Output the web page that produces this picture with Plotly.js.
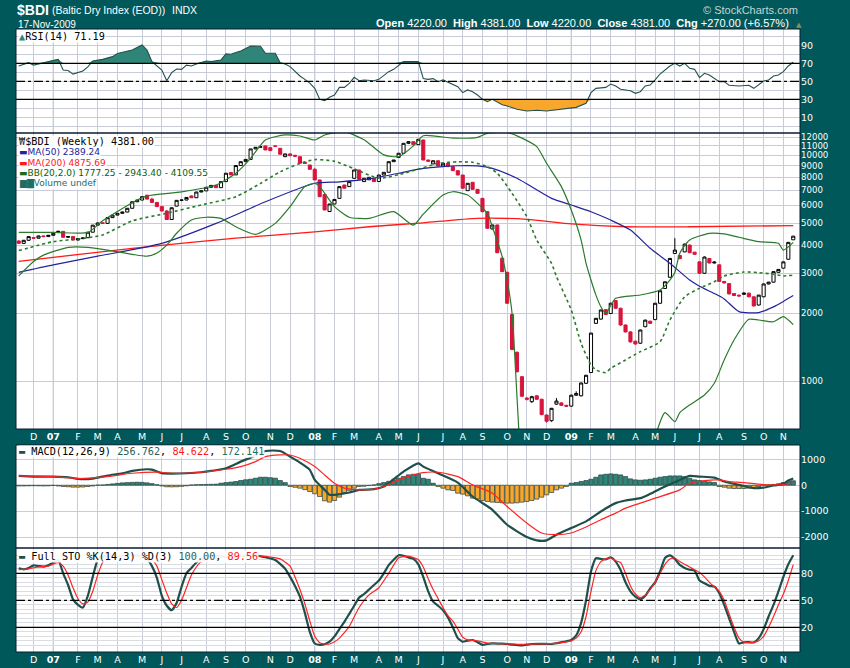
<!DOCTYPE html>
<html><head><meta charset="utf-8">
<script src="https://cdn.plot.ly/plotly-3.0.1.min.js"></script>
<style>html,body{margin:0;padding:0;background:#01585a;}#chart{width:850px;height:668px;}</style>
</head><body><div id="chart"></div>
<script>
// ---------- DATA (weekly bars, week index 0 = Monday 2007-01-01) ----------
const firstCandleWeek = -7;
const candleOpen = [4170,4070,4200,4320,4290,4390,4360,4420,4560,4600,
4330,4360,4210,4270,4310,4560,4900,5020,4990,5290,
5430,5530,5600,5820,6220,6330,6650,6390,6180,5920,
5660,5190,5950,6310,6330,6600,6480,6870,6950,7210,
7350,7180,7640,8380,8180,9000,9360,9580,10660,10840,
10990,10800,10990,10730,9850,10130,9990,9850,9300,9050,
8660,7770,6700,5630,6080,6440,7380,7260,7900,8600,
7640,7780,7900,7650,8170,8400,9360,9780,10200,11290,
11480,11140,11680,9520,9150,9450,8960,9210,8900,8540,
8170,6965,7585,7060,6440,5620,4710,4910,3500,3030,
1970,1340,1045,840,810,860,830,707,667,790,
800,780,774,865,860,977,1090,1800,1880,2070,
1990,2270,2100,1770,1650,1500,1470,1740,1840,1870,
2210,2570,2880,3670,3600,3730,4000,3720,3370,3000,
3490,3330,3270,2760,2700,2440,2400,2420,2450,2360,
2170,2360,2690,2740,3030,3160,3460,4220];
const candleHigh = [4200,4210,4370,4340,4400,4400,4430,4520,4620,4600,
4370,4360,4280,4310,4570,4910,5030,5030,5300,5440,
5540,5620,5830,6230,6340,6560,6680,6480,6190,5950,
5720,5860,6320,6340,6510,6630,6880,6960,7220,7360,
7360,7650,8330,8390,9010,9370,9590,10670,10850,10920,
11000,10810,11040,10750,10140,10210,10000,9860,9370,9060,
8760,7780,6780,6090,6380,7270,7390,7650,8610,8610,
7910,7990,7910,8180,8410,9370,9530,10210,11300,11490,
11490,11793,11700,9560,9460,9460,9220,9220,8910,8550,
8180,7520,7600,7070,6450,5630,4920,4920,3510,3040,
1980,1350,1050,850,860,865,835,710,760,840,
805,785,870,900,985,1065,1635,1900,2070,2080,
2220,2280,2110,1780,1660,1510,1690,1870,1850,2215,
2515,2760,3500,4291,3610,4050,4010,3730,3380,3560,
3500,3390,3280,2770,2710,2450,2410,2470,2460,2370,
2410,2700,2750,3060,3130,3380,4120,4381];
const candleLow = [4060,4060,4180,4280,4280,4340,4350,4400,4550,4320,
4310,4200,4200,4260,4300,4550,4880,4970,4980,5280,
5420,5500,5590,5810,6200,6320,6380,6170,5910,5650,
5180,5180,5940,6260,6320,6470,6470,6860,6940,7200,
7170,7170,7630,8170,8170,8990,9350,9570,10650,10830,
10540,10470,10900,10090,9840,9940,9860,9200,9200,8650,
7760,6540,5710,5600,6070,6430,7130,7250,7890,7810,
7630,7770,7630,7640,8160,8390,9350,9770,10190,11200,
11130,11130,9510,9390,9140,8950,8950,8890,8530,8160,
7130,6950,7050,6770,5610,4740,4700,3690,3040,2200,
1370,1090,850,820,800,825,705,655,660,785,
775,770,770,860,855,970,1085,1790,1870,1960,
1985,2090,1760,1640,1480,1450,1460,1730,1790,1860,
2200,2560,2870,3660,3470,3720,3690,3630,2990,2990,
3320,3320,2750,2700,2420,2380,2370,2410,2350,2140,
2160,2350,2680,2730,3020,3150,3450,4220];
const candleClose = [4070,4200,4360,4290,4390,4360,4420,4510,4600,4330,
4360,4210,4270,4300,4560,4900,5010,4990,5290,5430,
5530,5600,5820,6220,6330,6550,6390,6180,5920,5660,
5190,5850,6310,6330,6500,6480,6870,6950,7210,7350,
7180,7640,8320,8180,9000,9360,9580,10660,10840,10910,
10550,10480,10950,10100,10130,9950,9900,9210,9210,8660,
7770,6550,5720,6080,6370,7260,7140,7640,8600,7820,
7900,7980,7640,8170,8400,9360,9520,10200,11290,11480,
11140,11760,9520,9400,9450,8960,9210,8900,8540,8170,
7140,7510,7060,6780,5620,4745,4910,3700,3050,2210,
1380,1100,856,830,852,830,710,663,757,815,
780,774,865,880,980,1060,1630,1895,2063,1970,
2210,2100,1770,1650,1490,1458,1682,1860,1800,2210,
2510,2750,3490,3800,3480,4040,3700,3640,3000,3540,
3330,3360,2760,2720,2430,2390,2380,2450,2360,2150,
2400,2690,2740,3050,3120,3370,4111,4381];

const ma50Week  = [-7,0,9,22,33,43,53,58,64,70,75,79,82,86,89,94,101,105,109,113,117,121,125,129,131,134,136,139,143,146,148,150];
const ma50Value = [3030,3270,3570,4070,4990,6220,7510,7620,7850,8320,8740,8900,8980,8960,8740,7900,6440,6020,5620,5160,4660,3870,3320,2800,2630,2440,2310,2030,2010,2130,2250,2389.24];

const ma200Week  = [-7,16,37,53,64,75,86,96,105,116,129,150];
const ma200Value = [3390,3870,4290,4580,4820,5020,5250,5200,4960,4820,4820,4875.69];

const bbMidWeek  = [-7,0,6,10,16,23,30,37,42,46,50,53,57,61,66,70,75,78,82,85,88,90,93,96,98,101,102,105,107,109,110,112,113,116,119,123,125,128,131,134,136,140,143,146,148,150];
const bbMidValue = [3780,4140,4280,4430,5120,5530,6020,6550,7500,8450,9200,9560,9400,8700,7900,8200,8800,9200,9350,9300,8900,8320,6780,5340,4210,3320,2900,2063,1469,1177,1119,1089,1138,1239,1349,1493,1863,2362,2573,2753,2920,3040,3020,2970,2920,2943.40];

const bbUpWeek  = [-7,0,7,10,16,19,26,33,37,40,43,47,50,53,55,59,63,67,70,73,75,81,86,88,92,95,98,100,103,105,107,108,109,110,111,112,114,119,123,125,126,127,129,133,136,139,143,147,148,150];
const bbUpValue = [4550,4550,4550,5120,6160,6600,6880,7380,8320,9690,11680,12290,12160,11680,12290,12710,11700,10030,9850,11000,12200,11900,12000,12500,12600,11900,10910,9210,7260,5720,4210,3320,2800,2400,2133,1994,2324,2404,2530,2800,3020,3680,4210,4510,4480,4330,4140,4070,3800,4109.55];

const bbLowWeek  = [-7,-4,-2,3,7,11,16,19,21,23,25,28,31,34,37,41,45,48,51,53,54,57,60,64,69,73,75,79,81,84,86,88,89,91,92,93,94,95,96,120,121,122,124,126,127,129,132,134,136,138,141,143,146,148,150];
const bbLowValue = [2920,3380,3610,3910,3910,3800,3640,3570,3690,4000,4510,5160,5310,5250,4820,4460,4990,5920,7260,7510,7260,5920,5310,5250,5620,4900,5480,6660,6890,6660,6120,5530,4820,3550,2800,1994,850,350,200,200,350,560,724,660,724,783,867,977,1239,1519,1876,1863,1830,1927,1777.25];

const rsiWeek  = [-7,-5,-4,-2,0,1,2,3,4,6,7,8,10,12,13,16,18,19,20,22,23,24,25,26,27,28,29,31,32,34,35,36,37,38,40,41,42,43,45,46,47,48,50,51,52,53,54,55,56,57,58,59,60,61,62,63,65,66,68,69,71,72,74,75,76,77,78,79,81,82,83,84,85,86,87,88,89,90,91,92,94,96,98,100,101,104,106,108,109,110,112,113,114,115,117,118,119,120,121,122,123,125,126,127,128,129,130,131,132,133,135,136,137,139,141,142,144,145,146,147,148,149,150];
const rsiValue = [67,70.7,68,70.7,73.7,74.4,62.6,62,58,61.5,66,72.6,74.4,77.4,81,84.8,90.4,84.8,71.9,62.6,50.7,59.6,63.7,63.3,68,67,69.3,72.6,71.9,73.7,80.4,80,81.9,83.7,89.3,89.3,89,81.1,81.1,70.7,69.3,66.3,55.9,52.2,48,42.2,30,28.5,32.2,34.8,43.3,43.3,47.8,54.4,50.7,51.5,50.7,52.2,60.7,63.3,71.9,71.9,71.9,53,52.2,53,49.6,51.5,45.9,44,37.4,40.4,38.5,34.8,30,27.4,30,27.4,24,22.6,18.9,17,17.8,17,17.8,20,21.1,25.6,37.4,42.2,43.3,47,44.8,41.1,39.6,36.7,38.5,44.8,45.9,51.5,58.1,67,70,67,70,64.4,63.3,54.1,58.9,57,49.6,49.6,45.6,44.8,45.6,42.2,50.4,51.5,55.9,57,60.7,67,71.19];

const macdWeek  = [-7,-4,0,3,5,8,11,14,16,19,20,22,24,27,30,32,35,38,40,43,46,48,50,52,53,55,56,57,60,62,65,67,69,71,74,75,78,82,85,89,92,96,98,100,102,105,108,111,114,116,119,121,124,127,129,131,134,136,139,142,144,146,148,149,150];
const macdValue = [359,333,333,308,244,256,372,462,551,615,603,462,449,462,500,551,654,910,1064,1320,1320,1103,872,590,205,-180,-372,-372,-282,-180,-154,-51,231,526,846,718,462,103,-436,-949,-1526,-2000,-2128,-2128,-1910,-1654,-1397,-1013,-692,-590,-500,-333,-51,205,359,333,295,141,13,-115,-90,-13,51,180,256.762];
const signalWeek  = [-7,0,5,11,16,22,24,30,35,38,41,43,46,48,50,53,55,57,59,62,65,67,70,73,75,78,82,85,89,92,96,99,102,105,108,111,114,116,119,122,127,129,132,135,137,140,143,145,148,150];
const signalValue = [359,333,256,333,462,500,462,500,615,718,910,1103,1167,1167,1038,718,397,77,-115,-180,-154,-51,205,397,487,500,333,13,-308,-821,-1462,-1846,-1910,-1846,-1615,-1333,-1077,-885,-692,-500,-180,77,180,205,141,103,38,13,26,84.622];
// histogram: one value per weekly bar (same weeks as candles)
const histValue = [-30,-30,-25,-20,-25,-30,-25,-10,-30,-50,
-60,-75,-75,-70,-50,-30,5,10,30,50,
70,90,100,110,115,110,90,60,20,-30,
-60,-65,-60,-45,-25,10,20,25,30,35,
40,77,100,120,141,180,210,231,270,308,
308,290,270,180,100,-50,-80,-115,-170,-244,
-330,-436,-603,-654,-590,-462,-282,-200,-115,-51,
-40,-13,13,60,103,150,205,270,333,400,
423,423,269,230,77,-51,-115,-180,-205,-308,
-346,-410,-500,-538,-590,-628,-654,-667,-680,-692,
-692,-680,-654,-628,-590,-538,-462,-372,-282,-180,
-115,-51,77,103,141,180,231,308,397,423,
436,423,397,333,244,205,192,205,231,269,
308,333,359,359,359,333,269,205,180,154,
128,103,-51,-77,-115,-128,-128,-128,-115,-115,
-51,13,10,30,51,103,154,172.141];

const stoKWeek  = [-7,-6,-5,-4,-3,-2,-1,0,1,2,3,4,5,6,7,8,9,10,12,14,16,18,19,20,21,22,23,24,25,26,27,28,29,30,33,36,39,41,43,45,47,48,49,50,51,52,53,54,55,56,57,58,59,60,61,62,63,64,65,66,67,68,69,70,71,72,73,74,75,76,77,78,79,80,81,82,83,84,85,86,87,88,89,91,92,93,95,97,99,101,102,103,104,105,106,107,108,109,110,111,112,113,114,115,116,117,118,119,120,121,122,123,124,125,126,127,128,129,130,131,132,133,134,135,136,137,138,139,140,141,142,143,144,145,146,147,148,149,150];
const stoKValue = [85.6,84.4,86,88.9,88,87.4,89,91.9,94.8,80,67,51,45,42,55,76,94.8,98,100,99,100,99,96,88,75,55,44,39,47,65,80,86,92,96,99,98,100,100,97.8,94.8,85,76,66,54,36,15,2,0.5,1.2,4,10,18,26,35,44,53,57,62,67,72,80,89,95,100,99.5,97.5,96,90,76,60,48.5,44,39,31,20,8,4,5.2,5.9,3.5,0.5,1.5,2.2,1.8,1.5,0.8,0,1.5,1.6,1.5,2.3,3.5,4.5,5.9,11,25,50,81.9,96.7,96,95.6,97.8,93,83.7,70,60,54,51.1,55,63.3,70,82,97,100,96,89.3,86,84,83,72,69,66,65.2,58,45,30,15,2,3.3,3.5,3.2,8,18,32,45,60,76,90,100];
const stoDWeek  = [-7,-5,-3,-1,1,2,3,4,5,6,7,8,9,10,11,14,18,20,21,22,23,24,25,26,27,28,29,30,34,38,42,44,46,48,49,50,51,52,53,54,55,56,57,58,59,60,62,64,66,68,70,72,74,75,76,77,78,79,80,81,82,83,84,86,88,90,94,98,102,105,106,107,108,109,110,111,112,113,114,115,116,117,118,119,120,121,122,123,124,125,126,127,128,129,130,131,132,133,134,135,136,137,138,139,140,141,142,143,144,145,146,147,148,149,150];
const stoDValue = [84,85,87,88,92,88,78,64,52,46,48,60,78,92,98,99,99,95,88,73,58,46,42,50,64,78,87,93,98,99,99,98,96,88,76,62,46,27,10,3,1.5,1.5,4,8,14,21,42,56,64,80,97,99,95,87,74,62,52,42,33,27,18,9,6,5,2.5,2,1.2,1.5,2.5,5,8,15,32,60,83,93,96,97,94,92,80,66,57,53,56,62,70,80,90,96,97,93,90,87,84,81,76,70,65,60,50,35,20,8,3.5,3,3.3,5,10,20,32,45,57,72,89.56];

const headerStats = {open:4220.00, high:4381.00, low:4220.00, close:4381.00, chg:270.00, chgPct:6.57};
const monthLetters = ['J','F','M','A','M','J','J','A','S','O','N','D'];

// ---------- helpers ----------
function weekDate(w){ return new Date(Date.UTC(2007,0,1) + w*604800000).toISOString().slice(0,10); }
const dates = ws => ws.map(weekDate);
const candleDates = candleOpen.map((_, i) => weekDate(firstCandleWeek + i));
const last = a => a[a.length-1];

// month ticks: first weekly bar of each month
const tickVals = [], tickText = [], yearTicks = [];
let prevKey = '';
candleDates.forEach((d, i) => {
  const key = d.slice(0,7);
  if (key !== prevKey) {
    if (i > 0 || d.slice(8,10) <= '07') {
      const m = parseInt(d.slice(5,7),10) - 1;
      tickVals.push(d);
      if (m === 0) { tickText.push('<b>' + d.slice(2,4) + '</b>'); yearTicks.push(d); }
      else tickText.push(monthLetters[m]);
    }
    prevKey = key;
  }
});

// ---------- colours ----------
const TEAL_DARK = '#1f4f4b', RED = '#ff2424', GRID = '#c8cbd8', BG = '#01585a';
const C_UP_FILL = '#2f8577', C_DN_FILL = '#f7a72c';

const traces = [];
// RSI
const rsiX = dates(rsiWeek);
traces.push({x: rsiX, y: rsiValue.map(() => 70), xaxis:'x', yaxis:'y', mode:'lines', line:{width:0, color:'rgba(0,0,0,0)'}, hoverinfo:'skip'});
traces.push({x: rsiX, y: rsiValue.map(v => Math.max(v,70)), xaxis:'x', yaxis:'y', mode:'lines', line:{width:0, color:'rgba(0,0,0,0)'}, fill:'tonexty', fillcolor:C_UP_FILL, hoverinfo:'skip'});
traces.push({x: rsiX, y: rsiValue.map(() => 30), xaxis:'x', yaxis:'y', mode:'lines', line:{width:0, color:'rgba(0,0,0,0)'}, hoverinfo:'skip'});
traces.push({x: rsiX, y: rsiValue.map(v => Math.min(v,30)), xaxis:'x', yaxis:'y', mode:'lines', line:{width:0, color:'rgba(0,0,0,0)'}, fill:'tonexty', fillcolor:C_DN_FILL, hoverinfo:'skip'});
traces.push({x: rsiX, y: rsiValue, xaxis:'x', yaxis:'y', mode:'lines', line:{width:1.1, color:'#24504d'}});

// price
traces.push({type:'candlestick', x: candleDates, open: candleOpen, high: candleHigh, low: candleLow, close: candleClose,
  xaxis:'x', yaxis:'y2', whiskerwidth:0,
  increasing:{line:{color:'#000000', width:1}, fillcolor:'#ffffff'},
  decreasing:{line:{color:'#d8143c', width:1}, fillcolor:'#d8143c'}, hoverinfo:'skip'});
traces.push({x: dates(ma200Week), y: ma200Value, xaxis:'x', yaxis:'y2', mode:'lines', line:{color:'#ff1a1a', width:1.3, shape:'spline', smoothing:0.6}});
traces.push({x: dates(ma50Week), y: ma50Value, xaxis:'x', yaxis:'y2', mode:'lines', line:{color:'#23239a', width:1.2, shape:'spline', smoothing:0.6}});
traces.push({x: dates(bbUpWeek), y: bbUpValue, xaxis:'x', yaxis:'y2', mode:'lines', line:{color:'#2b7a2b', width:1.2, shape:'spline', smoothing:0.6}});
traces.push({x: dates(bbLowWeek), y: bbLowValue, xaxis:'x', yaxis:'y2', mode:'lines', line:{color:'#2b7a2b', width:1.2, shape:'spline', smoothing:0.6}});
traces.push({x: dates(bbMidWeek), y: bbMidValue, xaxis:'x', yaxis:'y2', mode:'lines', line:{color:'#2b7a2b', width:1.6, dash:'dot', shape:'spline', smoothing:0.6}});

// MACD
traces.push({type:'bar', x: candleDates, y: histValue, xaxis:'x', yaxis:'y3',
  marker:{color: histValue.map(v => v >= 0 ? C_UP_FILL : C_DN_FILL), line:{color:'#24403f', width:0.7}}});
traces.push({x: dates(macdWeek), y: macdValue, xaxis:'x', yaxis:'y3', mode:'lines', line:{color:TEAL_DARK, width:2.2, shape:'spline', smoothing:0.6}});
traces.push({x: dates(signalWeek), y: signalValue, xaxis:'x', yaxis:'y3', mode:'lines', line:{color:RED, width:1.2, shape:'spline', smoothing:0.6}});

// STO
traces.push({x: dates(stoKWeek), y: stoKValue, xaxis:'x2', yaxis:'y4', mode:'lines', line:{color:TEAL_DARK, width:2.2, shape:'spline', smoothing:0.5}});
traces.push({x: dates(stoDWeek), y: stoDValue, xaxis:'x2', yaxis:'y4', mode:'lines', line:{color:RED, width:1.2, shape:'spline', smoothing:0.5}});

// ---------- layout ----------
const L = 16, T = 29, PW = 784, PH = 623;
const px = x => (x - L) / PW, py = y => (T + PH - y) / PH;
const xRange = ['2006-11-09 02:00', '2009-11-25 14:00'];
const tickFont = {family:'DejaVu Sans, Verdana, sans-serif', size:9.5, color:'#ffffff'};
const xCommon = {type:'date', range:xRange, tickmode:'array', tickvals:tickVals, ticktext:tickText,
  tickfont:tickFont, showgrid:true, gridcolor:GRID, gridwidth:1, ticks:'', showline:false, zeroline:false,
  rangeslider:{visible:false}, fixedrange:true};
const yCommon = {side:'right', anchor:'x', tickfont:tickFont, showgrid:true, gridcolor:GRID, gridwidth:1,
  ticks:'', showline:false, zeroline:false, fixedrange:true, tickmode:'array'};

const rsiTicks = [0,10,20,30,40,50,60,70,80,90,100];
const stoTicks = []; for (let v = 0; v <= 100; v += 5) stoTicks.push(v);
const priceTicks = [1000,2000,3000,4000,5000,6000,7000,8000,9000,10000,11000,12000];
const macdTicks = [-2000,-1000,0,1000];

const shapes = [];
const panels = [['x','y'],['x','y2'],['x','y3'],['x2','y4']];
panels.forEach(([xr, yr]) => {
  yearTicks.forEach(d => shapes.push({type:'line', xref:xr, yref:yr+' domain', x0:d, x1:d, y0:0, y1:1, line:{color:'#a2a9ba', width:1}, layer:'below'}));
});
[[70,'solid'],[30,'solid'],[50,'dashdot']].forEach(([v,dash]) =>
  shapes.push({type:'line', xref:'x domain', yref:'y', x0:0, x1:1, y0:v, y1:v, line:{color:'#000', width:1.2, dash:dash}}));
[[80,'solid'],[20,'solid'],[50,'dashdot']].forEach(([v,dash]) =>
  shapes.push({type:'line', xref:'x2 domain', yref:'y4', x0:0, x1:1, y0:v, y1:v, line:{color:'#000', width:1.2, dash:dash}}));
panels.forEach(([xr, yr]) => shapes.push({type:'rect', xref:xr+' domain', yref:yr+' domain', x0:0, x1:1, y0:0, y1:1, line:{color:'#0b1a33', width:1}, fillcolor:'rgba(0,0,0,0)'}));

const HF = 'Liberation Sans, Arial, sans-serif';
const MONO = 'DejaVu Sans Mono, monospace';
const SANS = 'DejaVu Sans, Verdana, sans-serif';
function ann(text, x, y, font, extra){ return Object.assign({text, x:px(x), y:py(y), xref:'paper', yref:'paper', xanchor:'left', yanchor:'middle', showarrow:false, font}, extra||{}); }
const legendBox = {bgcolor:'rgba(255,255,255,0.92)', borderpad:0};
const f2 = v => v.toFixed(2), f3 = v => v.toFixed(3);

const annotations = [
  ann('<b>$BDI</b>', 15, 9.5, {family:HF, size:14, color:'#fff'}),
  ann('(Baltic Dry Index (EOD))', 50, 10.5, {family:HF, size:10.5, color:'#fff'}),
  ann('INDX', 170, 10.5, {family:HF, size:10.5, color:'#fff'}),
  ann('17-Nov-2009', 16, 24.5, {family:HF, size:10, color:'#fff'}),
  ann('© StockCharts.com', 800, 10, {family:HF, size:11, color:'#c4d4d4'}, {xanchor:'right'}),
  ann('<b>Open</b> ' + f2(headerStats.open) + '  <b>High</b> ' + f2(headerStats.high) + '  <b>Low</b> ' + f2(headerStats.low) +
      '  <b>Close</b> ' + f2(headerStats.close) + '  <b>Chg</b> +' + f2(headerStats.chg) + ' (+' + f2(headerStats.chgPct) + '%)',
      791, 23.5, {family:HF, size:11, color:'#fff'}, {xanchor:'right'}),
  ann('▲', 794, 24.5, {family:SANS, size:7, color:'#8a8f5a'}),
  // RSI legend
  ann('<span style="color:#2f8577">▲</span>RSI(14) ' + f2(last(rsiValue)), 18, 36, {family:MONO, size:10.2, color:'#000'}, legendBox),
  // price legends
  ann('<span style="color:#333">₩</span>$BDI (Weekly) ' + f2(last(candleClose)), 18, 141, {family:MONO, size:10.2, color:'#000'}, legendBox),
  ann('<span style="color:#23239a">▬</span>MA(50) ' + f2(last(ma50Value)), 18, 152, {family:SANS, size:9, color:'#23239a'}, legendBox),
  ann('<span style="color:#ff1a1a">▬</span>MA(200) ' + f2(last(ma200Value)), 18, 162.5, {family:SANS, size:9, color:'#ff1a1a'}, legendBox),
  ann('<span style="color:#1c6b1c">▬</span>BB(20,2.0) ' + f2(last(bbLowValue)) + ' - ' + f2(last(bbMidValue)) + ' - ' + f2(last(bbUpValue)), 18, 173.2, {family:SANS, size:9, color:'#0b5e0b'}, legendBox),
  ann('<span style="color:#1e6e64">▆▇</span>Volume undef', 18, 183.6, {family:SANS, size:9, color:'#1e6e64'}, legendBox),
  // MACD legend
  ann('<span style="color:' + TEAL_DARK + '">▬</span> MACD(12,26,9) <span style="color:#1f5f58">' + f3(last(macdValue)) + '</span>, <span style="color:#ff1a1a">' +
      f3(last(signalValue)) + '</span>, <span style="color:#1f6f60">' + f3(last(histValue)) + '</span>', 18, 452, {family:MONO, size:10.2, color:'#000'}, legendBox),
  // STO legend
  ann('<span style="color:' + TEAL_DARK + '">▬</span> Full STO %K(14,3) %D(3) <span style="color:#1f5f58">' + f2(last(stoKValue)) + '</span>, <span style="color:#ff1a1a">' +
      f2(last(stoDValue)) + '</span>', 18, 556, {family:MONO, size:10.2, color:'#000'}, legendBox)
];

const layout = {
  width:850, height:668, paper_bgcolor:BG, plot_bgcolor:'#ffffff',
  margin:{l:L, r:850-L-PW, t:T, b:668-T-PH, pad:0}, showlegend:false,
  boxgap:0.1, bargap:0.12, hovermode:false,
  xaxis: Object.assign({}, xCommon, {anchor:'y2', domain:[0,1]}),
  xaxis2: Object.assign({}, xCommon, {anchor:'y4', domain:[0,1], matches:'x'}),
  yaxis: Object.assign({}, yCommon, {domain:[519/623, 1], range:[-7.4,108.1], tickvals:rsiTicks,
    ticktext: rsiTicks.map(v => [10,30,50,70,90].includes(v) ? String(v) : '')}),
  yaxis2: Object.assign({}, yCommon, {domain:[223/623, 519/623], type:'log', range:[Math.log10(613), Math.log10(12540)],
    tickvals:priceTicks, ticktext:priceTicks.map(String), tickfont:{family:tickFont.family, size:8.6, color:'#ffffff'}}),
  yaxis3: Object.assign({}, yCommon, {domain:[104/623, 207/623], range:[-2424,1552], tickvals:macdTicks, ticktext:macdTicks.map(String)}),
  yaxis4: Object.assign({}, yCommon, {anchor:'x2', domain:[0, 104/623], range:[-7.4,108.1], tickvals:stoTicks,
    ticktext: stoTicks.map(v => [20,50,80].includes(v) ? String(v) : ''), gridcolor:'#d9dde2'}),
  shapes, annotations
};

Plotly.newPlot('chart', traces, layout, {staticPlot:true, displayModeBar:false});
</script>
</body></html>
